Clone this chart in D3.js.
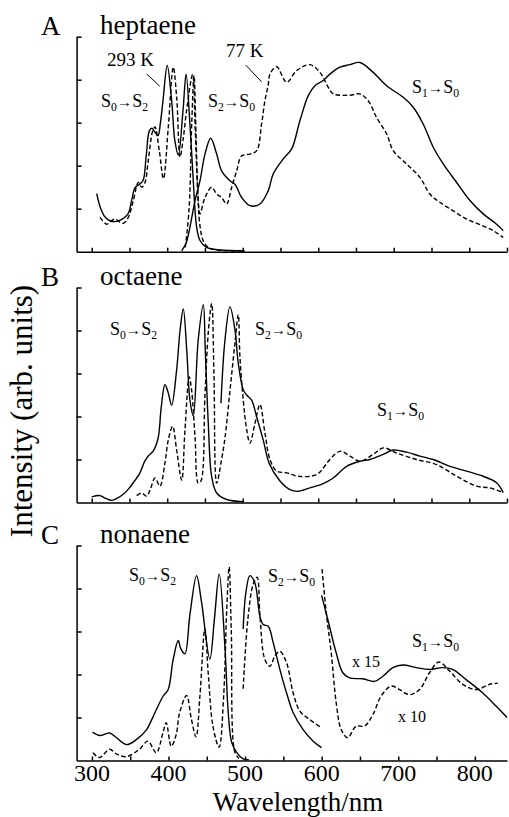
<!DOCTYPE html>
<html lang="en">
<head>
<meta charset="UTF-8">
<script src="https://d3js.org/d3.v7.min.js"></script>
<style>
    body { margin: 0; background: #ffffff; }
    svg { display: block; font-family: 'Liberation Serif', 'DejaVu Serif', serif; }
    .curve { fill: none; stroke: #000; stroke-width: 1.4; stroke-linejoin: round; }
    .dashed { stroke-dasharray: 4.5, 2.5; }
    .axis path, .axis line { stroke: #000; stroke-width: 1.5; }
</style>
</head>
<body>
<svg id="chart" width="509" height="817"></svg>
<script>
// ---- data: [wavelength nm, intensity] ----

// A: heptaene
const heptAbs293 = [[306.6,1.35],[312,1.0],[318,0.8],[324.2,0.72],[330.8,0.70],[340,0.75],[348.1,0.88],[353,1.2],[357.3,1.49],[362,1.55],[367.9,1.65],[372,2.2],[376.3,2.81],[379.4,2.87],[383,2.8],[387.8,2.70],[391,3.0],[394.4,3.51],[400,4.33],[405.9,3.51],[410,2.6],[414.7,2.25],[420.9,3.28],[425,4.13],[430.1,2.97],[434.5,1.65],[439,0.57],[443.4,0.26],[452.3,0.1],[470,0.04],[503,0.02]];
const heptEm293 = [[419.2,0.02],[425,0.2],[430.1,0.57],[436.8,1.19],[443.4,1.65],[450,2.27],[457.6,2.64],[465.5,2.27],[472.1,1.88],[483.1,1.65],[489.7,1.57],[498.6,1.26],[509.6,1.07],[522.8,1.11],[533.8,1.42],[540.4,1.81],[553.7,2.16],[564.8,2.39],[575.8,3.05],[586.8,3.63],[595.6,3.86],[606.6,3.98],[615.5,4.13],[628.7,4.29],[642,4.35],[655.2,4.40],[672.8,4.17],[690.6,3.86],[712.6,3.59],[725.8,3.36],[739,2.97],[752.3,2.43],[765.5,2.04],[783.3,1.61],[800.9,1.19],[818.5,0.88],[836.2,0.64],[845,0.49]];
const heptAbs77 = [[311,0.80],[319.9,0.64],[325,0.7],[330.8,0.76],[336,0.7],[341.8,0.66],[348.5,0.80],[355.1,1.19],[361.7,1.61],[366.2,1.50],[370.6,1.61],[374.9,2.12],[380.8,2.81],[383.8,2.9],[389.5,2.35],[395,1.7],[401.4,2.89],[408,4.29],[412.5,3.6],[417,2.2],[421,2.6],[425.8,3.3],[433.7,4.12],[437,2.89],[440,1.58],[443.4,0.6],[447.8,0.25],[454.4,0.1],[470,0.03],[503,0.02]];
const heptEm77 = [[424,0.1],[429,1.0],[432.5,3.0],[435.5,4.1],[438.5,2.5],[441,1.2],[443.4,0.88],[450,1.26],[458.9,1.50],[465.5,1.34],[472,1.26],[478.7,1.11],[485.4,1.5],[492,1.88],[498.6,2.23],[509.6,2.27],[518.5,2.35],[525,2.97],[529.4,3.51],[533.8,3.88],[536.1,4.13],[545,4.30],[558.2,3.94],[571.4,4.21],[589,4.35],[602.3,4.17],[613.3,3.82],[619.9,3.67],[642,3.64],[655.2,3.67],[666.2,3.51],[677.3,3.12],[690.6,2.74],[699.3,2.35],[717,2.04],[734.7,1.73],[747.9,1.34],[761.1,1.15],[778.8,0.95],[796.5,0.76],[814.1,0.63],[831.7,0.49],[845,0.33]];

// B: octaene
const octAbs293 = [[300,0.13],[311,0.16],[318,0.1],[326.5,0.05],[334,0.1],[341.8,0.19],[348,0.3],[355.1,0.46],[363.9,0.69],[370,0.95],[374.9,1.08],[381.6,1.2],[388,1.5],[392,2.2],[397,2.74],[401.4,2.55],[405.9,2.26],[412.5,3.09],[417,4.0],[421.3,4.5],[425.8,3.56],[430,2.4],[434.5,2.02],[441.1,3.79],[447.8,4.6],[450.5,3.5],[454.4,1.84],[458.9,0.6],[465.5,0.22],[478.7,0.07],[500.3,0.02]];
const octEm293 = [[471.2,2.31],[476.5,3.78],[483.1,4.55],[489.7,4.02],[494.1,3.24],[500.7,2.62],[505.2,2.5],[511.8,2.38],[518.5,1.99],[527.2,1.45],[535.1,0.91],[549.3,0.50],[562.5,0.30],[573.5,0.26],[589,0.34],[606.6,0.44],[619.9,0.57],[637.6,0.84],[655.2,0.96],[668.5,1.0],[686.1,1.12],[699.3,1.22],[717.1,1.17],[734.7,1.08],[752.3,1.0],[774.4,0.84],[796.5,0.73],[818.5,0.61],[836.2,0.46],[845,0.23]];
const oct77 = [[359.6,0.16],[366.2,0.22],[372.8,0.15],[377.3,0.29],[383.8,0.57],[390.4,0.38],[397,0.92],[401.4,1.45],[407.2,1.77],[412.5,1.22],[419.2,0.52],[423.5,1.68],[429.2,2.92],[432.4,2.6],[436.8,1.53],[441.1,0.45],[444.7,0.5],[450,2.5],[454.6,4.0],[458.9,4.63],[461.9,3.0],[465.5,0.45],[472,1.0],[476.5,1.5],[483.1,2.6],[489.7,3.7],[494.1,4.37],[496.3,3.39],[500.7,2.38],[505.2,1.7],[509.6,1.38],[516.2,1.84],[522.8,2.28],[529.4,1.62],[536.1,1.0],[545,0.73],[558.2,0.69],[573.5,0.61],[597.9,0.65],[615.5,1.0],[628.7,1.19],[642,1.08],[655.2,0.96],[672.8,1.12],[686.1,1.27],[703.8,1.15],[730.3,1.0],[756.8,0.88],[783.3,0.61],[809.7,0.38],[827.3,0.34],[845,0.23]];

// C: nonaene
const nonAbs293 = [[300.9,0.66],[310.4,0.58],[318,0.62],[323.5,0.64],[332.2,0.53],[345.2,0.37],[358.4,0.49],[371.4,0.72],[382.2,1.11],[393.1,1.50],[399.6,1.65],[406.1,2.35],[412.7,2.79],[416,2.6],[421.4,2.48],[428,3.4],[436.7,4.30],[443,3.7],[454,2.36],[460,3.3],[466.2,4.34],[473.6,2.67],[478,1.12],[482.4,0.43],[488.9,0.19],[497.5,0.04],[505,0.02]];
const nonAbs77 = [[301.3,0.18],[310,0.07],[323,0.26],[332,0.15],[345,0.09],[362,0.26],[373,0.45],[384,0.18],[392.7,0.64],[397,0.88],[403.6,0.33],[410,0.6],[414.5,1.11],[423.6,1.51],[430,0.95],[436,0.55],[441,1.5],[447.5,3.06],[452,2.0],[458,0.8],[466,0.31],[472,1.5],[476,3.5],[479.2,4.5],[482,3.0],[486.7,0.19],[492,0.05]];
const nonEm293 = [[497.5,3.06],[501,3.9],[506.3,4.30],[512.8,4.13],[519.3,3.36],[523.6,3.16],[530.2,3.12],[536.7,2.74],[545.4,2.12],[554.2,1.57],[562.8,1.11],[575.8,0.72],[588.9,0.45],[599.9,0.30]];
const nonEm77 = [[497.5,1.67],[503.7,3.3],[510.6,4.1],[515.8,4.26],[519.3,3.4],[525.8,2.35],[532.4,2.19],[538.9,2.43],[545.4,2.54],[554.2,2.27],[562.8,1.57],[571.5,1.15],[584.6,0.95],[599.9,0.76]];
const nonEm293x15 = [[599.9,3.84],[608,3.28],[619,2.50],[627.6,2.04],[636.4,1.92],[653.8,1.90],[669,1.84],[680,1.96],[693,2.16],[706,2.22],[723.5,2.16],[740.8,2.12],[758,2.16],[771,2.12],[788.7,1.88],[810.4,1.57],[828,1.26],[842,1.0]];
const nonEm77x10 = [[600.5,4.45],[606,3.43],[612.5,2.50],[619,1.34],[625.5,0.72],[634,0.53],[645,0.80],[656,0.80],[667,1.07],[677.7,1.50],[690.8,1.73],[701.7,1.65],[714.7,1.53],[727.8,1.65],[740.8,2.04],[753,2.29],[767,2.08],[784.3,1.77],[801.8,1.65],[819,1.77],[830,1.80]];

const xTickValues = d3.range(300, 851, 50);
const xTickLabels = [300, 400, 500, 600, 700, 800];
const yTickValues = [1, 2, 3, 4, 5];

const svg = d3.select("#chart");

const panels = [
    { letter: "A", name: "heptaene", y0: 251.7, xDomain: [280, 850],
      series: [[heptAbs293, false], [heptEm293, false], [heptAbs77, true], [heptEm77, true]] },
    { letter: "B", name: "octaene", y0: 502.5, xDomain: [280, 850],
      series: [[octAbs293, false], [octEm293, false], [oct77, true]] },
    { letter: "C", name: "nonaene", y0: 760.5, xDomain: [280, 842],
      series: [[nonAbs293, false], [nonEm293, false], [nonEm293x15, false],
               [nonAbs77, true], [nonEm77, true], [nonEm77x10, true]] }
];

const line = d3.line().curve(d3.curveCatmullRom.alpha(0.5));

// S_a -> S_b label with subscripts
function transLabel(g, x, y, a, b, size) {
    const t = g.append("text").attr("x", x).attr("y", y).attr("font-size", size);
    t.append("tspan").text("S");
    t.append("tspan").attr("dy", 4).attr("font-size", size * 0.65).text(a);
    t.append("tspan").attr("dy", -4).attr("font-size", size * 0.85).text("\u2192");
    t.append("tspan").text("S");
    t.append("tspan").attr("dy", 4).attr("font-size", size * 0.65).text(b);
}

panels.forEach(p => {
    const x = d3.scaleLinear().domain(p.xDomain).range([76.6, 507]);
    const y = d3.scaleLinear().domain([0, 5]).range([p.y0, p.y0 - 215]);
    p.x = x; p.y = y;
    const g = svg.append("g");

    g.append("g").attr("class", "axis")
        .attr("transform", `translate(0,${p.y0})`)
        .call(d3.axisBottom(x).tickValues(xTickValues.filter(v => v <= p.xDomain[1]))
            .tickSize(-4).tickSizeOuter(0).tickFormat(""));
    g.append("g").attr("class", "axis")
        .attr("transform", `translate(76.6,0)`)
        .call(d3.axisLeft(y).tickValues(yTickValues).tickSize(-5).tickSizeOuter(0).tickFormat(""));

    p.series.forEach(([data, dashed]) => {
        g.append("path")
            .attr("class", dashed ? "curve dashed" : "curve")
            .attr("d", line.x(d => x(d[0])).y(d => y(d[1]))(data));
    });

    g.append("text").attr("x", 41).attr("y", p.y0 - 217).attr("font-size", 27).text(p.letter);
    g.append("text").attr("x", 100).attr("y", p.y0 - 218).attr("font-size", 27).text(p.name);
});

const [pA, pB, pC] = panels;
const ann = svg.append("g");

// panel A annotations
ann.append("text").attr("x", 107).attr("y", 66).attr("font-size", 19).text("293 K");
ann.append("line").attr("x1", pA.x(373)).attr("y1", pA.y(4.13)).attr("x2", pA.x(390)).attr("y2", pA.y(3.85))
    .attr("stroke", "#000").attr("stroke-width", 1);
ann.append("text").attr("x", 226).attr("y", 57).attr("font-size", 19).text("77 K");
ann.append("line").attr("x1", pA.x(504)).attr("y1", pA.y(4.34)).attr("x2", pA.x(525)).attr("y2", pA.y(3.95))
    .attr("stroke", "#000").attr("stroke-width", 1);
transLabel(ann, 101, 107, "0", "2", 18);
transLabel(ann, 208, 107, "2", "0", 18);
transLabel(ann, 412, 93, "1", "0", 18);

// panel B annotations
transLabel(ann, 110, 335, "0", "2", 18);
transLabel(ann, 255, 335, "2", "0", 18);
transLabel(ann, 377, 416, "1", "0", 18);

// panel C annotations
transLabel(ann, 129, 581, "0", "2", 18);
transLabel(ann, 268, 582, "2", "0", 18);
transLabel(ann, 412, 647, "1", "0", 18);
ann.append("text").attr("x", 352).attr("y", 667).attr("font-size", 16).text("x 15");
ann.append("text").attr("x", 398).attr("y", 722).attr("font-size", 16).text("x 10");

// x tick labels and titles
svg.append("g").selectAll("text").data(xTickLabels).join("text")
    .attr("x", d => pC.x(d)).attr("y", 781)
    .attr("text-anchor", "middle").attr("font-size", 24)
    .text(d => d);
svg.append("text").attr("x", 298).attr("y", 811).attr("text-anchor", "middle")
    .attr("font-size", 27).text("Wavelength/nm");
svg.append("text").attr("transform", "translate(32,411) rotate(-90)")
    .attr("text-anchor", "middle").attr("font-size", 31).text("Intensity (arb. units)");
</script>
</body>
</html>
